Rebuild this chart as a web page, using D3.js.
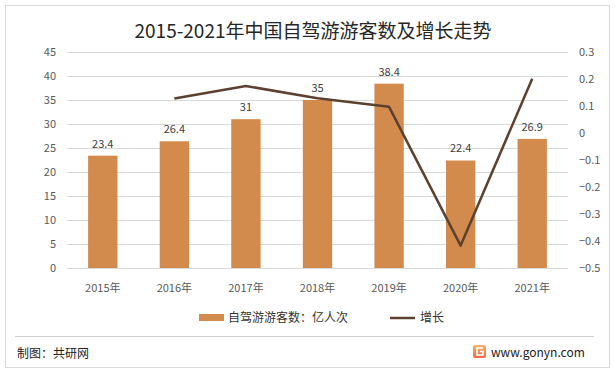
<html>
<head>
<script src="https://d3js.org/d3.v7.min.js"></script>
<style>
body { margin: 0; background: #fff; }
text { font-family: "Noto Sans CJK SC", "Noto Sans", sans-serif; }
.gridlines line { stroke: #d9d9d9; }
.gridlines .domain { stroke: none; }
.axis .domain, .axis line { stroke: none; }
.axis text { fill: #595959; font-size: 11px; }
</style>
</head>
<body>
<svg id="chart" width="615" height="376"></svg>
<script>
const years = ['2015年', '2016年', '2017年', '2018年', '2019年', '2020年', '2021年'];
const visitors = [23.4, 26.4, 31, 35, 38.4, 22.4, 26.9];
const growthYears = ['2016年', '2017年', '2018年', '2019年', '2020年', '2021年'];
const growth = [0.128, 0.174, 0.129, 0.097, -0.417, 0.201];
const leftTicks = [0, 5, 10, 15, 20, 25, 30, 35, 40, 45];
const rightTicks = [-0.5, -0.4, -0.3, -0.2, -0.1, 0, 0.1, 0.2, 0.3];

const svg = d3.select('svg#chart');
const margins = {top: 52, left: 67, right: 47, bottom: 108};
const width = 615, height = 376;
const chartWidth = width - margins.left - margins.right;
const chartHeight = height - margins.top - margins.bottom;

// frame
svg.append('rect')
    .attr('x', 5.5).attr('y', 5.5).attr('width', 604).attr('height', 362)
    .attr('fill', '#fff').attr('stroke', '#d9d9d9');
svg.append('line')
    .attr('x1', 15).attr('x2', 594).attr('y1', 336.5).attr('y2', 336.5)
    .attr('stroke', '#d0d0d0');

svg.append('text')
    .attr('x', 313).attr('y', 38)
    .attr('text-anchor', 'middle')
    .attr('font-size', '19px').attr('fill', '#262626')
    .text('2015-2021年中国自驾游游客数及增长走势');

const xScale = d3.scaleBand().domain(years).range([0, chartWidth]).paddingInner(0.59).paddingOuter(0.295);
const yLeft = d3.scaleLinear().domain([0, 45]).range([chartHeight, 0]);
const yRight = d3.scaleLinear().domain([-0.5, 0.3]).range([chartHeight, 0]);

const chartArea = svg.append('g')
    .attr('transform', `translate(${margins.left},${margins.top})`);

chartArea.append('g').attr('class', 'gridlines')
    .call(d3.axisLeft(yLeft).tickValues(leftTicks).tickSize(-chartWidth).tickFormat(''));

chartArea.selectAll('rect.bar')
    .data(visitors)
    .join('rect')
    .attr('class', 'bar')
    .attr('x', (d, i) => xScale(years[i]))
    .attr('y', d => yLeft(d))
    .attr('width', xScale.bandwidth())
    .attr('height', d => chartHeight - yLeft(d))
    .attr('fill', '#d38b4d');

chartArea.selectAll('text.label')
    .data(visitors)
    .join('text')
    .attr('class', 'label')
    .attr('x', (d, i) => xScale(years[i]) + xScale.bandwidth() / 2)
    .attr('y', d => yLeft(d) - 8)
    .attr('text-anchor', 'middle')
    .attr('font-size', '11px')
    .attr('fill', '#404040')
    .text(d => d);

const line = d3.line()
    .x((d, i) => xScale(growthYears[i]) + xScale.bandwidth() / 2)
    .y(d => yRight(d));

chartArea.append('path')
    .datum(growth)
    .attr('d', line)
    .attr('fill', 'none')
    .attr('stroke', '#5c4130')
    .attr('stroke-width', 2.5)
    .attr('stroke-linejoin', 'round');

chartArea.append('g').attr('class', 'axis')
    .call(d3.axisLeft(yLeft).tickValues(leftTicks).tickSize(0).tickPadding(11));

chartArea.append('g').attr('class', 'axis')
    .attr('transform', `translate(${chartWidth},0)`)
    .call(d3.axisRight(yRight).tickValues(rightTicks).tickSize(0).tickPadding(11)
        .tickFormat(d => d === 0 ? '0' : d3.format('.1f')(d)));

chartArea.append('g').attr('class', 'axis')
    .attr('transform', `translate(0,${chartHeight})`)
    .call(d3.axisBottom(xScale).tickSize(0).tickPadding(16))
    .selectAll('text').attr('fill', '#262626');

// legend
const legend = svg.append('g').attr('transform', 'translate(199,318)');
legend.append('rect').attr('x', 0).attr('y', -4).attr('width', 25).attr('height', 7).attr('fill', '#d38b4d');
legend.append('text').attr('x', 29).attr('y', 4).attr('font-size', '12px').attr('fill', '#333')
    .text('自驾游游客数：亿人次');
legend.append('line').attr('x1', 191).attr('x2', 216).attr('y1', 0).attr('y2', 0)
    .attr('stroke', '#5c4130').attr('stroke-width', 2.5);
legend.append('text').attr('x', 221).attr('y', 4).attr('font-size', '12px').attr('fill', '#333')
    .text('增长');

// footer
svg.append('text').attr('x', 17).attr('y', 358).attr('font-size', '12px').attr('fill', '#222')
    .text('制图：共研网');
const defs = svg.append('defs');
const grad = defs.append('linearGradient').attr('id', 'logoGrad').attr('x1', 0).attr('y1', 0).attr('x2', 0).attr('y2', 1);
grad.append('stop').attr('offset', 0).attr('stop-color', '#f7b46a');
grad.append('stop').attr('offset', 1).attr('stop-color', '#ee6a4a');
svg.append('rect').attr('x', 473).attr('y', 345).attr('width', 13).attr('height', 13).attr('rx', 2).attr('fill', 'url(#logoGrad)');
svg.append('path').attr('d', 'M483,348 H477 V355 H483 V351.5 H480').attr('fill', 'none').attr('stroke', '#fff').attr('stroke-width', 1.6);
svg.append('text').attr('x', 491).attr('y', 357).attr('font-size', '12px').attr('fill', '#222')
    .text('www.gonyn.com');
</script>
</body>
</html>
